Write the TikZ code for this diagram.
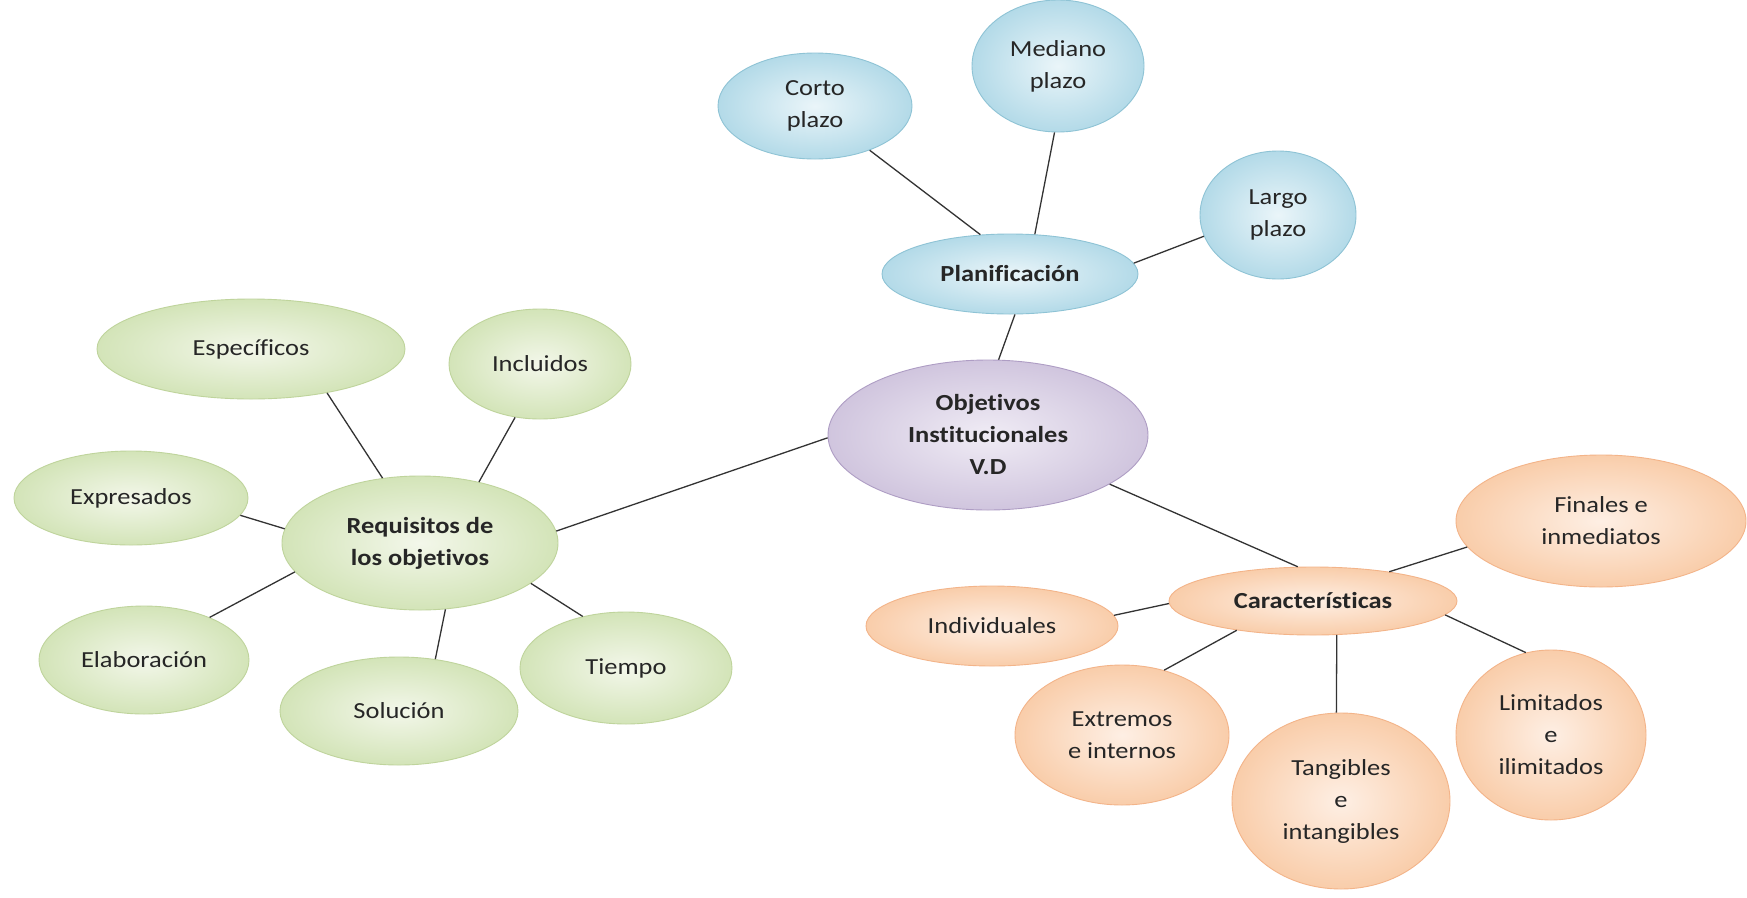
\documentclass[tikz,border=0pt]{standalone}
\usepackage{fontspec}
\setmainfont[FakeStretch=1.15, Ligatures=CommonOff]{Carlito}
\usetikzlibrary{shapes.geometric}
\definecolor{bIn}{HTML}{EAF5F9}\definecolor{bOut}{HTML}{B3DAE8}\definecolor{bLine}{HTML}{8EC3D5}
\definecolor{gIn}{HTML}{F3F7EA}\definecolor{gOut}{HTML}{D3E4B8}\definecolor{gLine}{HTML}{BFD49C}
\definecolor{oIn}{HTML}{FEEFE4}\definecolor{oOut}{HTML}{F9CDAA}\definecolor{oLine}{HTML}{F3B489}
\definecolor{pIn}{HTML}{F0ECF5}\definecolor{pOut}{HTML}{D0C5DE}\definecolor{pLine}{HTML}{AE9DC4}
\definecolor{txt}{HTML}{262626}
\definecolor{conn}{HTML}{333333}
\tikzset{
  bub/.style={ellipse, inner sep=0pt, align=center, text=txt,
    font=\fontsize{23}{32}\selectfont, line width=0.9pt},
  sz/.style 2 args={minimum width=#1pt, minimum height=#2pt},
  bluebub/.style={bub, draw=bLine, inner color=bIn, outer color=bOut},
  greenbub/.style={bub, draw=gLine, inner color=gIn, outer color=gOut},
  orangebub/.style={bub, draw=oLine, inner color=oIn, outer color=oOut},
  purplebub/.style={bub, draw=pLine, inner color=pIn, outer color=pOut},
  link/.style={draw=conn, line width=1.3pt},
  hd/.style={font=\fontsize{23}{32}\selectfont\bfseries}
}
\begin{document}
\begin{tikzpicture}[x=1pt,y=-1pt]
\useasboundingbox[fill=white] (0,0) rectangle (1747,897);
% blue
\node[bluebub, sz={194}{106}] (corto) at (815,106) {Corto\\plazo};
\node[bluebub, sz={172}{132}] (mediano) at (1058,66) {Mediano\\plazo};
\node[bluebub, sz={156}{128}] (largo) at (1278,215) {Largo\\plazo};
\node[bluebub, hd, sz={256}{80}] (plan) at (1010,274) {Planificación};
% purple
\node[purplebub, hd, sz={320}{150}] (obj) at (988,435) {Objetivos\\Institucionales\\V.D};
% green
\node[greenbub, sz={308}{100}] (esp) at (251,349) {Específicos};
\node[greenbub, sz={182}{110}] (inc) at (540,364) {Incluidos};
\node[greenbub, sz={234}{94}] (exp) at (131,498) {Expresados};
\node[greenbub, hd, sz={276}{134}] (req) at (420,543) {Requisitos de\\los objetivos};
\node[greenbub, sz={210}{108}] (ela) at (144,660) {Elaboración};
\node[greenbub, sz={238}{108}] (sol) at (399,711) {Solución};
\node[greenbub, sz={212}{112}] (tie) at (626,668) {Tiempo};
% orange
\node[orangebub, hd, sz={288}{68}] (car) at (1313,601) {Características};
\node[orangebub, sz={290}{132}] (fin) at (1601,521) {Finales e\\inmediatos};
\node[orangebub, sz={252}{80}] (ind) at (992,626) {Individuales};
\node[orangebub, sz={214}{140}] (ext) at (1122,735) {Extremos\\e internos};
\node[orangebub, sz={218}{176}] (tan) at (1341,801) {Tangibles\\e\\intangibles};
\node[orangebub, sz={190}{170}] (lim) at (1551,735) {Limitados\\e\\ilimitados};
% connectors
\draw[link] (corto.-39) -- (plan.127);
\draw[link] (mediano.-93) -- (plan.58);
\draw[link] (largo.196) -- (plan.5);
\draw[link] (plan.-83) -- (obj.82);
\draw[link] (obj.181) -- (req.5);
\draw[link] (obj.-22) -- (car.114);
\draw[link] (esp.-30) -- (req.120);
\draw[link] (inc.-115) -- (req.46);
\draw[link] (exp.-9) -- (req.174);
\draw[link] (ela.33) -- (req.193);
\draw[link] (sol.55) -- (req.-69);
\draw[link] (tie.130) -- (req.-20);
\draw[link] (car.21) -- (fin.191);
\draw[link] (car.181) -- (ind.5);
\draw[link] (car.201) -- (ext.57);
\draw[link] (car.-55) -- (tan.93);
\draw[link] (car.-6) -- (lim.107);
\end{tikzpicture}
\end{document}
